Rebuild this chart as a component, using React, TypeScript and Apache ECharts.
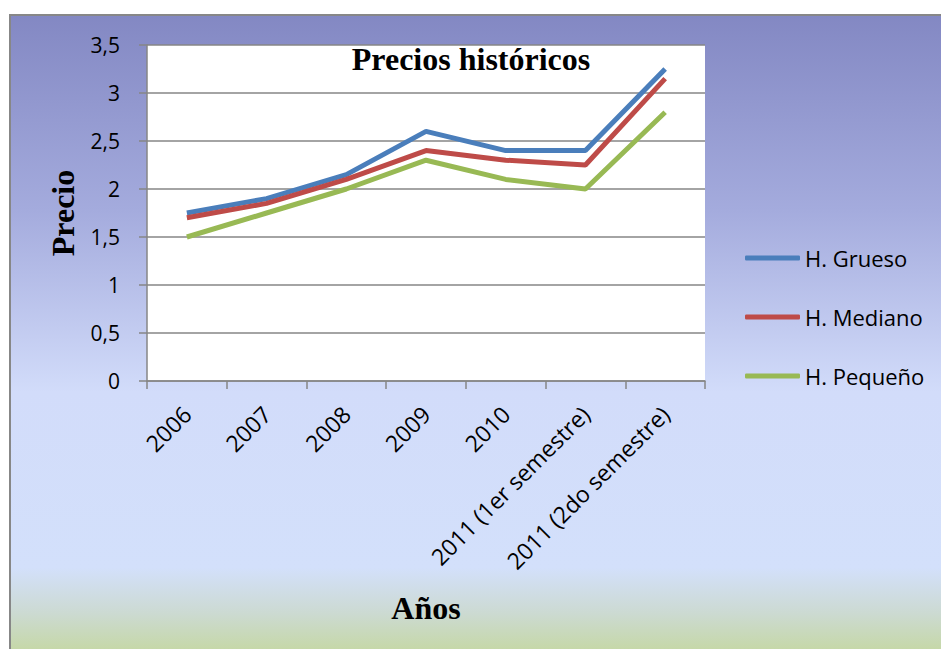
import React, { useEffect, useRef } from "react";
import * as echarts from "echarts";

const categories = [
  "2006",
  "2007",
  "2008",
  "2009",
  "2010",
  "2011 (1er semestre)",
  "2011 (2do semestre)",
];
const grueso = [1.75, 1.9, 2.15, 2.6, 2.4, 2.4, 3.25];
const mediano = [1.7, 1.85, 2.1, 2.4, 2.3, 2.25, 3.15];
const pequeno = [1.5, 1.75, 2.0, 2.3, 2.1, 2.0, 2.8];
const seriesNames = ["H. Grueso", "H. Mediano", "H. Pequeño"];
const colors = ["#4a7ebb", "#be4b48", "#98b954"];

const sans = "'Open Sans', 'Noto Sans', sans-serif";
const serif = "'Liberation Serif', 'DejaVu Serif', serif";

export default function App() {
  const ref = useRef<HTMLDivElement>(null);
  useEffect(() => {
    if (!ref.current) return;
    const chart = echarts.init(ref.current, undefined, { renderer: "svg" });
    const seriesData = [grueso, mediano, pequeno];
    chart.setOption({
      animation: false,
      graphic: [
        {
          type: "rect",
          z: -10,
          silent: true,
          shape: { x: 10, y: 15, width: 940, height: 650 },
          style: {
            fill: new echarts.graphic.LinearGradient(0, 0, 0, 1, [
              { offset: 0, color: "#8388c3" },
              { offset: 0.3, color: "#a4abdd" },
              { offset: 0.58, color: "#d2dcfa" },
              { offset: 0.85, color: "#d3e0fb" },
              { offset: 0.92, color: "#ccdad2" },
              { offset: 1, color: "#c3d796" },
            ]),
            stroke: "#878787",
            lineWidth: 2,
          },
        },
        {
          type: "rect",
          z: -5,
          silent: true,
          shape: { x: 147, y: 45, width: 558, height: 336 },
          style: { fill: "#ffffff" },
        },
        {
          type: "text",
          x: 471,
          y: 59,
          style: {
            text: "Precios históricos",
            font: `bold 32px ${serif}`,
            fill: "#000",
            align: "center",
            verticalAlign: "middle",
          },
        },
        {
          type: "text",
          x: 63,
          y: 213,
          rotation: Math.PI / 2,
          style: {
            text: "Precio",
            font: `bold 32px ${serif}`,
            fill: "#000",
            align: "center",
            verticalAlign: "middle",
          },
        },
        {
          type: "text",
          x: 426,
          y: 608,
          style: {
            text: "Años",
            font: `bold 32px ${serif}`,
            fill: "#000",
            align: "center",
            verticalAlign: "middle",
          },
        },
      ],
      grid: { left: 147, top: 45, right: 236, bottom: 268, containLabel: false },
      legend: {
        orient: "vertical",
        left: 745,
        top: 247,
        padding: 0,
        itemGap: 37,
        itemWidth: 55,
        itemHeight: 5,
        icon: "roundRect",
        textStyle: { fontFamily: sans, fontSize: 22, color: "#000" },
        data: seriesNames,
      },
      xAxis: {
        type: "category",
        data: categories,
        boundaryGap: true,
        axisLine: { lineStyle: { color: "#868686", width: 1.5 } },
        axisTick: { show: true, length: 8, lineStyle: { color: "#868686", width: 1.5 } },
        axisLabel: {
          rotate: 45,
          interval: 0,
          margin: 29,
          fontFamily: sans,
          fontSize: 23,
          color: "#000",
        },
      },
      yAxis: {
        type: "value",
        min: 0,
        max: 3.5,
        interval: 0.5,
        axisLine: { show: true, lineStyle: { color: "#868686", width: 1.5 } },
        axisTick: { show: true, length: 8, lineStyle: { color: "#868686", width: 1.5 } },
        splitLine: { lineStyle: { color: "#868686", width: 1.5 } },
        axisLabel: {
          margin: 27,
          fontFamily: sans,
          fontSize: 21,
          color: "#000",
          formatter: (v: number) => String(v).replace(".", ","),
        },
      },
      series: seriesNames.map((name, i) => ({
        name,
        type: "line",
        data: seriesData[i],
        symbol: "none",
        lineStyle: { color: colors[i], width: 5 },
        itemStyle: { color: colors[i] },
      })),
    });
    return () => chart.dispose();
  }, []);
  return (
    <div
      ref={ref}
      style={{ position: "absolute", left: 0, top: 0, width: 941, height: 649 }}
    />
  );
}
